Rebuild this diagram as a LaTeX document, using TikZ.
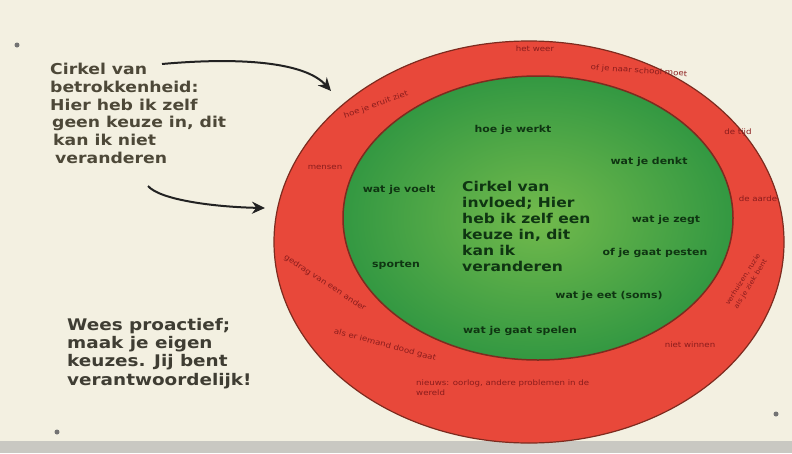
\documentclass[tikz,border=0pt]{standalone}
\usepackage{fontspec}
\newfontfamily\wf[FakeStretch=1.15]{DejaVu Sans}
\usetikzlibrary{arrows.meta}
\definecolor{bg}{HTML}{F3F0E1}
\definecolor{edgegray}{HTML}{C9C8C2}
\definecolor{ringred}{HTML}{E8483A}
\definecolor{ringline}{HTML}{7D2B1F}
\definecolor{gin}{HTML}{72BA4C}
\definecolor{gout}{HTML}{339842}
\definecolor{gtext}{HTML}{0F3512}
\definecolor{rtext}{HTML}{8A1C1C}
\definecolor{notec}{HTML}{4D4838}
\definecolor{notec2}{HTML}{3F3D33}
\definecolor{arrc}{HTML}{222222}
\tikzset{
  note/.style={font=\wf\bfseries\fontsize{15}{17.7}\selectfont, text=notec, align=left, inner sep=0pt, anchor=north west},
  note2/.style={font=\wf\bfseries\fontsize{16}{18.3}\selectfont, text=notec2, align=left, inner sep=0pt, anchor=north west},
  bigtxt/.style={font=\wf\bfseries\fontsize{13.5}{16}\selectfont, text=gtext, align=left, inner sep=0pt, anchor=north west},
  gtxt/.style={font=\wf\bfseries\fontsize{9.5}{11}\selectfont, text=gtext, inner sep=0pt},
  rtxt/.style={font=\wf\fontsize{7.5}{9}\selectfont, text=rtext, inner sep=0pt},
  arr/.style={draw=arrc, line width=2pt, -{Stealth[length=13pt,width=12pt]}},
  pin/.style={fill=black!55}
}
\begin{document}
\begin{tikzpicture}[x=1pt,y=-1pt]
\useasboundingbox (0,0) rectangle (792,453);
\fill[bg] (0,0) rectangle (792,453);
\fill[edgegray] (0,441) rectangle (792,453);
\fill[pin] (17,45) circle (2.5);
\fill[pin] (57,432) circle (2.5);
\fill[pin] (776,414) circle (2.5);

% circles
\filldraw[fill=ringred, draw=ringline, line width=1.2pt] (529,242) ellipse [x radius=255, y radius=201];
\shade[inner color=gin, outer color=gout] (538,218) ellipse [x radius=195, y radius=142];
\draw[ringline, line width=1.5pt] (538,218) ellipse [x radius=195, y radius=142];

% left notes
\node[note] (concern) at (50,63) {Cirkel van\\betrokkenheid:\\Hier heb ik zelf\\\hspace*{2pt}geen keuze in, dit\\\hspace*{3pt}kan ik niet\\\hspace*{5pt}veranderen};
\node[note2] (proact) at (67,318) {Wees proactief;\\maak je eigen\\keuzes. Jij bent\\verantwoordelijk!};

% arrows
\coordinate (a1s) at (162,64);
\coordinate (a1e) at (331,91);
\coordinate (a2s) at (148,186);
\coordinate (a2e) at (265,208);
\draw[arr] (a1s) .. controls (240,57) and (305,62) .. (a1e);
\draw[arr] (a2s) .. controls (160,200) and (215,207) .. (a2e);

% inner circle
\node[bigtxt] (invloed) at (462,181) {Cirkel van\\invloed; Hier\\heb ik zelf een\\keuze in, dit\\kan ik\\veranderen};
\node[gtxt] (g1) at (513,130) {hoe je werkt};
\node[gtxt] (g2) at (649,162) {wat je denkt};
\node[gtxt] (g3) at (399,190) {wat je voelt};
\node[gtxt] (g4) at (666,220) {wat je zegt};
\node[gtxt] (g5) at (655,253) {of je gaat pesten};
\node[gtxt] (g6) at (396,265) {sporten};
\node[gtxt] (g7) at (609,296) {wat je eet (soms)};
\node[gtxt] (g8) at (520,331) {wat je gaat spelen};

% outer ring
\node[rtxt] (r1) at (535,49) {het weer};
\node[rtxt, rotate=-4] (r2) at (639,71) {of je naar school moet};
\node[rtxt, rotate=20] (r3) at (376,105) {hoe je eruit ziet};
\node[rtxt] (r4) at (325,167) {mensen};
\node[rtxt] (r5) at (738,132) {de tijd};
\node[rtxt] (r6) at (758,199) {de aarde};
\node[rtxt, rotate=58, align=center, font=\wf\fontsize{6.5}{9}\selectfont] (r7) at (747,282) {verhuizen, ruzie\\als je ziek bent};
\node[rtxt] (r8) at (690,345) {niet winnen};
\node[rtxt, rotate=-33] (r9) at (325,283) {gedrag van een ander};
\node[rtxt, rotate=-15] (r10) at (385,345) {als er iemand dood gaat};
\node[rtxt, align=left, anchor=north west, font=\wf\fontsize{7.5}{10}\selectfont] (r11) at (416,380) {nieuws: oorlog, andere problemen in de\\wereld};
\end{tikzpicture}
\end{document}
